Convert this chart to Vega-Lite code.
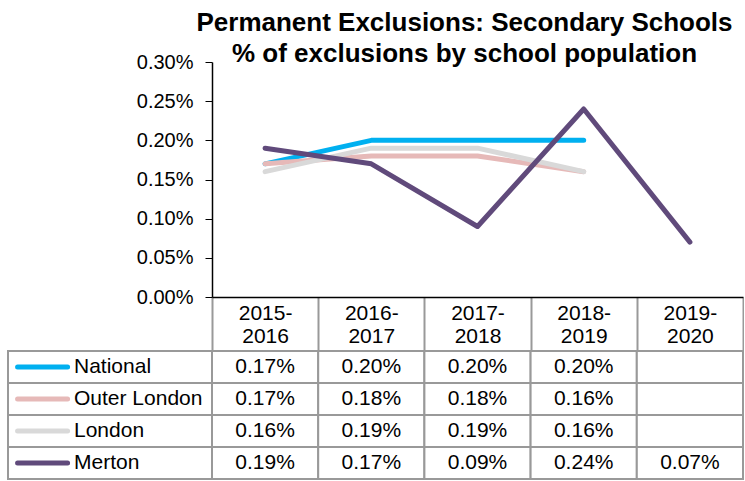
{
  "$schema": "https://vega.github.io/schema/vega-lite/v6.json",
  "autosize": {"type": "pad"},
  "padding": {"left": 7, "top": 10, "right": 0, "bottom": 0},
  "background": "white",
  "columns": 2,
  "spacing": {"row": 54, "column": 0},
  "bounds": "flush",
  "config": {
    "view": {"stroke": null},
    "font": "Liberation Sans",
    "text": {"font": "Liberation Sans"}
  },
  "datasets": {
    "main": [
      {"series": "National", "year": "2015-2016", "value": 0.0017},
      {"series": "National", "year": "2016-2017", "value": 0.0020},
      {"series": "National", "year": "2017-2018", "value": 0.0020},
      {"series": "National", "year": "2018-2019", "value": 0.0020},
      {"series": "National", "year": "2019-2020", "value": null},
      {"series": "Outer London", "year": "2015-2016", "value": 0.0017},
      {"series": "Outer London", "year": "2016-2017", "value": 0.0018},
      {"series": "Outer London", "year": "2017-2018", "value": 0.0018},
      {"series": "Outer London", "year": "2018-2019", "value": 0.0016},
      {"series": "Outer London", "year": "2019-2020", "value": null},
      {"series": "London", "year": "2015-2016", "value": 0.0016},
      {"series": "London", "year": "2016-2017", "value": 0.0019},
      {"series": "London", "year": "2017-2018", "value": 0.0019},
      {"series": "London", "year": "2018-2019", "value": 0.0016},
      {"series": "London", "year": "2019-2020", "value": null},
      {"series": "Merton", "year": "2015-2016", "value": 0.0019},
      {"series": "Merton", "year": "2016-2017", "value": 0.0017},
      {"series": "Merton", "year": "2017-2018", "value": 0.0009},
      {"series": "Merton", "year": "2018-2019", "value": 0.0024},
      {"series": "Merton", "year": "2019-2020", "value": 0.0007}
    ],
    "series": [
      {"series": "National"},
      {"series": "Outer London"},
      {"series": "London"},
      {"series": "Merton"}
    ]
  },
  "concat": [
    {
      "width": 204,
      "height": 235,
      "data": {"values": [{}]},
      "mark": {"type": "text", "text": ""}
    },
    {
      "width": 531,
      "height": 235,
      "title": {
        "text": ["Permanent Exclusions: Secondary Schools", "% of exclusions by school population"],
        "fontSize": 26,
        "font": "Liberation Sans",
        "fontWeight": "bold",
        "color": "#000000",
        "lineHeight": 31,
        "anchor": "middle",
        "dx": -13,
        "offset": -15
      },
      "data": {"name": "main"},
      "transform": [{"filter": "datum.value != null"}],
      "mark": {"type": "line", "strokeWidth": 5, "strokeCap": "round", "strokeJoin": "round"},
      "encoding": {
        "x": {
          "field": "year", "type": "ordinal", "sort": null,
          "scale": {"paddingInner": 0, "paddingOuter": 0, "domain": ["2015-2016", "2016-2017", "2017-2018", "2018-2019", "2019-2020"]},
          "axis": {
            "title": null,
            "labelAngle": 0,
            "labelExpr": "[slice(datum.label, 0, 5), slice(datum.label, 5)]",
            "labelFont": "Liberation Sans",
            "labelFontSize": 21,
            "labelLineHeight": 23,
            "labelColor": "#000000",
            "labelPadding": -49,
            "tickBand": "extent",
            "tickSize": 54,
            "tickColor": "#999999",
            "tickWidth": 2,
            "domainColor": "#000000",
            "domainWidth": 1.5
          }
        },
        "y": {
          "field": "value", "type": "quantitative",
          "scale": {"domain": [0, 0.003], "nice": false},
          "axis": {
            "title": null,
            "format": ".2%",
            "values": [0, 0.0005, 0.001, 0.0015, 0.002, 0.0025, 0.003],
            "grid": false,
            "labelFont": "Liberation Sans",
            "labelFontSize": 20,
            "labelColor": "#000000",
            "labelPadding": 12,
            "tickSize": 7,
            "tickColor": "#000000",
            "domainColor": "#000000",
            "domainWidth": 1.5
          }
        },
        "color": {
          "field": "series", "type": "nominal",
          "scale": {"domain": ["National", "Outer London", "London", "Merton"], "range": ["#00B0F0", "#E6B9B8", "#D9D9D9", "#604A7B"]},
          "legend": null
        }
      }
    },
    {
      "width": 204,
      "height": 128,
      "data": {"name": "series"},
      "encoding": {
        "y": {"field": "series", "type": "nominal", "sort": ["National", "Outer London", "London", "Merton"], "scale": {"paddingInner": 0, "paddingOuter": 0}, "axis": null}
      },
      "layer": [
        {
          "mark": {"type": "rect", "fill": "white", "stroke": "#999999", "strokeWidth": 2},
          "encoding": {
            "x": {"datum": 0, "type": "quantitative", "scale": {"domain": [0, 1], "nice": false, "zero": false}, "axis": null},
            "x2": {"datum": 1}
          }
        },
        {
          "mark": {"type": "rule", "strokeWidth": 5, "strokeCap": "round"},
          "encoding": {
            "x": {"datum": 0.047, "type": "quantitative"},
            "x2": {"datum": 0.292},
            "color": {
              "field": "series", "type": "nominal",
              "scale": {"domain": ["National", "Outer London", "London", "Merton"], "range": ["#00B0F0", "#E6B9B8", "#D9D9D9", "#604A7B"]},
              "legend": null
            }
          }
        },
        {
          "mark": {"type": "text", "align": "left", "baseline": "middle", "fontSize": 21, "font": "Liberation Sans", "color": "#000000"},
          "encoding": {
            "x": {"datum": 0.3235, "type": "quantitative"},
            "text": {"field": "series"}
          }
        }
      ]
    },
    {
      "width": 531,
      "height": 128,
      "data": {"name": "main"},
      "encoding": {
        "x": {"field": "year", "type": "ordinal", "sort": null, "scale": {"paddingInner": 0, "paddingOuter": 0, "domain": ["2015-2016", "2016-2017", "2017-2018", "2018-2019", "2019-2020"]}, "axis": null},
        "y": {"field": "series", "type": "nominal", "sort": ["National", "Outer London", "London", "Merton"], "scale": {"paddingInner": 0, "paddingOuter": 0}, "axis": null}
      },
      "layer": [
        {
          "mark": {"type": "rect", "fill": "white", "stroke": "#999999", "strokeWidth": 2}
        },
        {
          "transform": [{"filter": "datum.value != null"}],
          "mark": {"type": "text", "baseline": "middle", "fontSize": 21, "font": "Liberation Sans", "color": "#000000"},
          "encoding": {
            "text": {"field": "value", "type": "quantitative", "format": ".2%"}
          }
        }
      ]
    }
  ]
}
